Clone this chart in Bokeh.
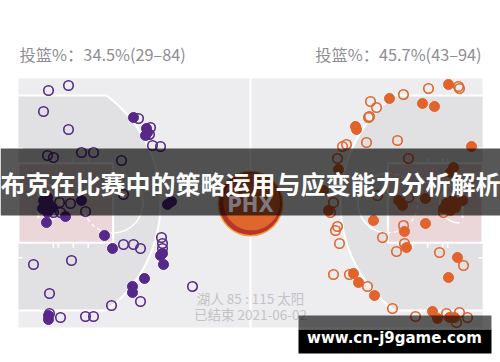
import numpy as np
from bokeh.plotting import figure
from bokeh.models import Range1d
from bokeh.embed import file_html
from bokeh.resources import INLINE
from bokeh.core.properties import value

# ---------------- data ----------------
home_label = "投篮%：34.5%(29–84)"
away_label = "投篮%：45.7%(43–94)"
score_label = "湖人 85 : 115 太阳"
status_label = "已结束 2021-06-02"
banner_title = "布克在比赛中的策略运用与应变能力分析解析"
watermark_text = "www.cn-j9game.com"
logo_text = "PHX"

# Lakers shots (court coordinates, left half)
lal_made_x = [133, 146, 145, 147, 43, 48, 42, 47, 52, 47, 81, 167, 171, 46, 65,
              104, 112, 160, 162, 163, 144, 132, 132, 48, 48]
lal_made_y = [117, 128, 135, 132, 200, 203, 208, 212, 207, 197, 200, 204, 201, 222, 216,
              235, 248, 255, 253, 264, 278, 286, 292, 315, 319]
lal_miss_x = [48, 68, 43, 68, 138, 150, 149, 152, 160, 47, 53, 81, 93, 121,
              59, 70, 85, 60, 53, 123, 161, 162, 162, 123, 133, 140,
              33, 71, 140, 49, 192, 111, 49, 60, 85, 93]
lal_miss_y = [90, 85, 111, 129, 118, 127, 134, 145, 146, 155, 157, 152, 152, 160,
              202, 203, 211, 212, 212, 194, 237, 243, 248, 244, 244, 248,
              264, 260, 301, 293, 286, 305, 313, 317, 316, 316]

# Suns shots (court coordinates, right half)
phx_made_x = [448, 389, 422, 434, 355, 356, 471, 338, 453, 450, 398, 402, 425, 446,
              452, 455, 443, 450, 323, 328, 462, 373, 404, 425, 406, 457, 448, 353,
              358, 374, 432, 437, 449, 454]
phx_made_y = [84, 98, 103, 106, 126, 129, 146, 169, 167, 172, 200, 205, 198, 203,
              200, 207, 208, 210, 190, 210, 200, 220, 231, 223, 247, 257, 277, 273,
              282, 295, 311, 318, 317, 317]
phx_miss_x = [458, 459, 428, 403, 370, 376, 368, 369, 366, 397, 342, 346, 337, 408,
              408, 377, 333, 330, 443, 403, 382, 337, 335, 339, 404, 396, 439, 463,
              333, 349, 367, 392, 415, 446, 459, 456, 467]
phx_miss_y = [86, 88, 88, 94, 101, 107, 117, 116, 142, 140, 146, 144, 158, 158,
              197, 195, 202, 212, 212, 225, 237, 226, 230, 243, 243, 251, 252, 265,
              274, 274, 286, 308, 316, 313, 312, 322, 317]

# ---------------- styles / geometry ----------------
W, H = 500, 362
LAL = "#55288a"
PHX = "#e2632b"
court_l, court_r, court_t, court_b = 18, 482, 78, 327
mid_x = (court_l + court_r) / 2
mid_y = (court_t + court_b) / 2
ppf = (court_b - court_t) / 50.0          # pixels per foot

p = figure(width=W, height=H, x_range=Range1d(0, W), y_range=Range1d(H, 0),
           output_backend="svg", toolbar_location=None,
           x_axis_type=None, y_axis_type=None, min_border=0)
p.background_fill_color = "white"
p.border_fill_color = "white"
p.outline_line_color = None
p.xgrid.visible = False
p.ygrid.visible = False

# court base
p.quad(left=court_l, right=court_r, top=court_t, bottom=court_b,
       fill_color="#ededf0", line_color=None)

corner_half = 21.6 * ppf
arc_cx_off = 1.6 * ppf
arc_R = 26.9 * ppf
t0 = np.arcsin(corner_half / arc_R)
t = np.linspace(-t0, t0, 120)

for side in (1, -1):
    base = court_l if side == 1 else court_r
    cx = base + side * arc_cx_off
    ax = cx + side * arc_R * np.cos(t)
    ay = mid_y + arc_R * np.sin(t)
    # inside three-point region
    px = np.concatenate([[base], ax, [base]])
    py = np.concatenate([[mid_y - corner_half], ay, [mid_y + corner_half]])
    p.patch(px, py, fill_color="#e1e1e4", line_color=None)
    p.line(px, py, line_color="white", line_width=2)

    # paint
    lane_len = 19 * ppf
    lane_half = 8 * ppf
    p.quad(left=min(base, base + side * lane_len), right=max(base, base + side * lane_len),
           top=mid_y - lane_half, bottom=mid_y + lane_half,
           fill_color="#ebd6da", line_color="white", line_width=2)
    # free throw circle
    ftx = base + side * lane_len
    ang = np.linspace(-np.pi / 2, np.pi / 2, 60)
    p.line(ftx + side * 6 * ppf * np.cos(ang), mid_y + 6 * ppf * np.sin(ang),
           line_color="white", line_width=1.5)
    p.line(ftx - side * 6 * ppf * np.cos(ang), mid_y + 6 * ppf * np.sin(ang),
           line_color="white", line_width=1.2, line_dash="4 3")
    # hash marks
    for ft in (7, 8, 11, 14):
        hx = base + side * ft * ppf
        p.segment(x0=[hx, hx], y0=[mid_y + lane_half, mid_y - lane_half],
                  x1=[hx, hx], y1=[mid_y + lane_half + 5, mid_y - lane_half - 5],
                  line_color="white", line_width=1.5)
    p.segment(x0=[base, base], y0=[mid_y + 11 * ppf, mid_y - 11 * ppf],
              x1=[base + side * 4, base + side * 4], y1=[mid_y + 11 * ppf, mid_y - 11 * ppf],
              line_color="white", line_width=1.5)
    # basket
    bx = base + side * 4.6 * ppf
    p.line(bx + side * 4 * ppf * np.cos(ang), mid_y + 4 * ppf * np.sin(ang),
           line_color="white", line_width=1.5)
    p.segment(x0=[base + side * 4 * ppf], y0=[mid_y - 3 * ppf],
              x1=[base + side * 4 * ppf], y1=[mid_y + 3 * ppf],
              line_color="white", line_width=2)
    p.circle(x=[bx], y=[mid_y], radius=0.8 * ppf, fill_alpha=0,
             line_color="#c8c8cc", line_width=1.5)

# centre line
p.segment(x0=[mid_x], y0=[court_t], x1=[mid_x], y1=[court_b], line_color="white", line_width=2)

# centre logo
p.circle(x=[mid_x], y=[mid_y + 0.5], radius=33, fill_color="#eea235", line_color=None)
p.circle(x=[mid_x], y=[mid_y + 0.5], radius=31.5, fill_color="#b8352c", line_color=None)
p.circle(x=[mid_x + 1.2], y=[mid_y - 1.2], radius=28.5, fill_color="#e0672c", line_color=None)

# shots
p.scatter(lal_made_x, lal_made_y, size=10, fill_color=LAL, line_color=LAL, line_width=1)
p.scatter(lal_miss_x, lal_miss_y, size=9.5, fill_alpha=0, line_color=LAL, line_width=1.6)
p.scatter(phx_made_x, phx_made_y, size=10, fill_color=PHX, line_color=PHX, line_width=1)
p.scatter(phx_miss_x, phx_miss_y, size=9.5, fill_alpha=0, line_color=PHX, line_width=1.6)

# header texts
cjk = value("Noto Sans CJK SC")
p.text(x=[court_l + 1], y=[53], text=[home_label], text_font=cjk, text_font_size="16.3px",
       text_color="#8e8e93", text_align="left", text_baseline="middle")
p.text(x=[court_r - 1], y=[53], text=[away_label], text_font=cjk, text_font_size="16.3px",
       text_color="#8e8e93", text_align="right", text_baseline="middle")
p.text(x=[mid_x], y=[297], text=[score_label], text_font=cjk, text_font_size="13.5px",
       text_color="#c3c3c7", text_align="center", text_baseline="middle")
p.text(x=[mid_x], y=[313], text=[status_label], text_font=cjk, text_font_size="13.5px",
       text_color="#c3c3c7", text_align="center", text_baseline="middle")

# banner overlay
p.quad(left=0, right=W, top=148, bottom=215, fill_color="black", fill_alpha=0.66, line_color=None)
p.text(x=[mid_x], y=[204], text=[logo_text], text_font=value("DejaVu Sans Condensed"),
       text_font_size="22px", text_font_style="bold", text_color="#7c7880",
       text_align="center", text_baseline="middle")
p.text(x=[mid_x], y=[182], text=[banner_title], text_font=cjk, text_font_size="25px",
       text_font_style="bold", text_color="white", text_align="center", text_baseline="middle")

# watermark
p.quad(left=298, right=491, top=315, bottom=329, fill_color="black", fill_alpha=0.62, line_color=None)
p.quad(left=298, right=491, top=329, bottom=353, fill_color="black", line_color=None)
p.text(x=[394], y=[337], text=[watermark_text], text_font=value("DejaVu Sans"),
       text_font_size="15px", text_font_style="bold", text_color="white",
       text_align="center", text_baseline="middle")

open("out.html", "w").write(file_html(p, INLINE))
